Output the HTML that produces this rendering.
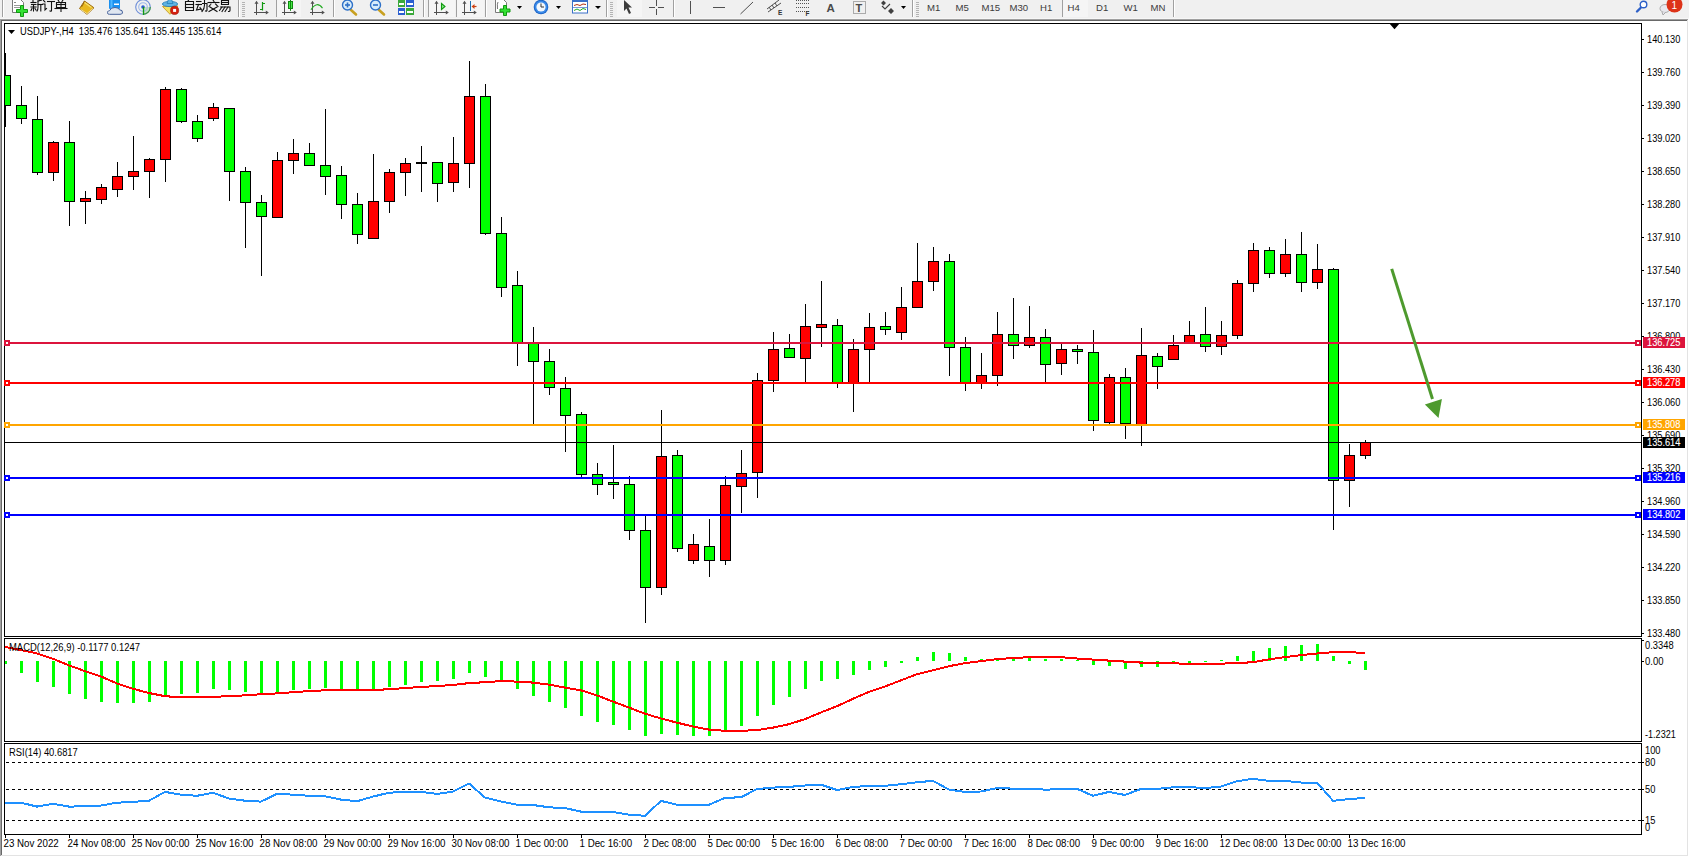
<!DOCTYPE html>
<html><head><meta charset="utf-8"><title>USDJPY H4</title>
<style>
html,body{margin:0;padding:0;background:#fff;}
body{width:1689px;height:857px;overflow:hidden;position:relative;font-family:"Liberation Sans", sans-serif;}
svg{position:absolute;left:0;top:0;display:block;}
text{font-family:"Liberation Sans", sans-serif;}
</style></head><body>
<svg width="1689" height="857" viewBox="0 0 1689 857">
<rect x="0" y="0" width="1689" height="857" fill="#ffffff"/>
<rect x="0" y="0" width="1689" height="19" fill="#f0f0f0"/>
<g shape-rendering="crispEdges">
<rect x="0" y="18" width="1689" height="1" fill="#f7f7f7"/>
<rect x="0" y="19" width="1688" height="1" fill="#a0a0a0"/>
<rect x="1" y="20" width="1687" height="1" fill="#696969"/>
<rect x="0" y="19" width="1" height="837" fill="#a0a0a0"/>
<rect x="1" y="20" width="1" height="835" fill="#696969"/>
<rect x="1687" y="20" width="1" height="836" fill="#e3e3e3"/>
<rect x="1" y="855" width="1687" height="1" fill="#e3e3e3"/>
</g>
<g>
<g shape-rendering="crispEdges">
<rect x="2" y="0" width="1" height="17" fill="#a0a0a0"/>
<rect x="3" y="0" width="1" height="17" fill="#ffffff"/>
<rect x="238" y="0" width="1" height="17" fill="#a0a0a0"/>
<rect x="239" y="0" width="1" height="17" fill="#ffffff"/>
<rect x="242" y="2" width="3" height="1" fill="#b4b4b4"/>
<rect x="242" y="4" width="3" height="1" fill="#b4b4b4"/>
<rect x="242" y="6" width="3" height="1" fill="#b4b4b4"/>
<rect x="242" y="8" width="3" height="1" fill="#b4b4b4"/>
<rect x="242" y="10" width="3" height="1" fill="#b4b4b4"/>
<rect x="242" y="12" width="3" height="1" fill="#b4b4b4"/>
<rect x="242" y="14" width="3" height="1" fill="#b4b4b4"/>
<rect x="242" y="16" width="3" height="1" fill="#b4b4b4"/>
<rect x="276" y="0" width="1" height="17" fill="#a0a0a0"/>
<rect x="277" y="0" width="1" height="17" fill="#ffffff"/>
<rect x="333" y="0" width="1" height="17" fill="#a0a0a0"/>
<rect x="334" y="0" width="1" height="17" fill="#ffffff"/>
<rect x="423" y="0" width="1" height="17" fill="#a0a0a0"/>
<rect x="424" y="0" width="1" height="17" fill="#ffffff"/>
<rect x="428" y="0" width="1" height="17" fill="#a0a0a0"/>
<rect x="429" y="0" width="1" height="17" fill="#ffffff"/>
<rect x="456" y="0" width="1" height="17" fill="#a0a0a0"/>
<rect x="457" y="0" width="1" height="17" fill="#ffffff"/>
<rect x="485" y="0" width="1" height="17" fill="#a0a0a0"/>
<rect x="486" y="0" width="1" height="17" fill="#ffffff"/>
<rect x="606" y="0" width="1" height="17" fill="#a0a0a0"/>
<rect x="607" y="0" width="1" height="17" fill="#ffffff"/>
<rect x="610" y="2" width="3" height="1" fill="#b4b4b4"/>
<rect x="610" y="4" width="3" height="1" fill="#b4b4b4"/>
<rect x="610" y="6" width="3" height="1" fill="#b4b4b4"/>
<rect x="610" y="8" width="3" height="1" fill="#b4b4b4"/>
<rect x="610" y="10" width="3" height="1" fill="#b4b4b4"/>
<rect x="610" y="12" width="3" height="1" fill="#b4b4b4"/>
<rect x="610" y="14" width="3" height="1" fill="#b4b4b4"/>
<rect x="610" y="16" width="3" height="1" fill="#b4b4b4"/>
<rect x="673" y="0" width="1" height="17" fill="#a0a0a0"/>
<rect x="674" y="0" width="1" height="17" fill="#ffffff"/>
<rect x="912" y="0" width="1" height="17" fill="#a0a0a0"/>
<rect x="913" y="0" width="1" height="17" fill="#ffffff"/>
<rect x="916" y="2" width="3" height="1" fill="#b4b4b4"/>
<rect x="916" y="4" width="3" height="1" fill="#b4b4b4"/>
<rect x="916" y="6" width="3" height="1" fill="#b4b4b4"/>
<rect x="916" y="8" width="3" height="1" fill="#b4b4b4"/>
<rect x="916" y="10" width="3" height="1" fill="#b4b4b4"/>
<rect x="916" y="12" width="3" height="1" fill="#b4b4b4"/>
<rect x="916" y="14" width="3" height="1" fill="#b4b4b4"/>
<rect x="916" y="16" width="3" height="1" fill="#b4b4b4"/>
<rect x="1062" y="0" width="1" height="17" fill="#a0a0a0"/>
<rect x="1063" y="0" width="1" height="17" fill="#ffffff"/>
<rect x="1173" y="0" width="1" height="17" fill="#a0a0a0"/>
<rect x="1174" y="0" width="1" height="17" fill="#ffffff"/>
<rect x="277" y="0" width="24" height="17" fill="#f5f5f5"/>
<rect x="429" y="0" width="26" height="17" fill="#f5f5f5"/>
<rect x="457" y="0" width="27" height="17" fill="#f5f5f5"/>
<rect x="617" y="0" width="25" height="17" fill="#f5f5f5"/>
<rect x="1063" y="0" width="25" height="17" fill="#f5f5f5"/>
</g>
<g>
<path d="M12.5 -1 H20 L23.5 2.5 V12.5 H12.5 Z" fill="#ffffff" stroke="#7a7a7a" stroke-width="1"/>
<rect x="14" y="2" width="2" height="1" fill="#888"/><rect x="14" y="5" width="6" height="1" fill="#999"/><rect x="14" y="7" width="6" height="1" fill="#999"/>
<path d="M20.5 5.5 h3 v4 h4 v3 h-4 v4 h-3 v-4 h-4 v-3 h4 z" fill="#33e033" stroke="#119911" stroke-width="1"/>
</g>
<g transform="translate(31,0)" fill="none" stroke="#111" stroke-width="1.1" stroke-linecap="square">
<path d="M2 0.5 V2"/>
<path d="M0 2.5 H5"/>
<path d="M0.5 4.5 H5"/>
<path d="M2.5 4.5 V11"/>
<path d="M0 7 H5"/>
<path d="M1 8.5 L0 10.5"/>
<path d="M4 8.5 L5 10"/>
<path d="M7 1 L10.5 0"/>
<path d="M7 1 V7 Q7 10 6 11"/>
<path d="M7 4.5 H11.5"/>
<path d="M9.8 4.5 V11"/>
</g>
<g transform="translate(43,0)" fill="none" stroke="#111" stroke-width="1.1" stroke-linecap="square">
<path d="M0.5 0.5 L2 2"/>
<path d="M0 4 H2 V10 L3.5 8.5"/>
<path d="M4.5 1.5 H11.5"/>
<path d="M8.5 1.5 V10.5 Q8.5 11.5 7 11"/>
</g>
<g transform="translate(55,0)" fill="none" stroke="#111" stroke-width="1.1" stroke-linecap="square">
<path d="M3 0 L4 1.5"/>
<path d="M8 0 L7 1.5"/>
<path d="M1.5 2.5 H10.5 V7.5 H1.5 Z"/>
<path d="M1.5 4.5 H10.5"/>
<path d="M6 2.5 V11.5"/>
<path d="M0 8.5 H12"/>
</g>
<path d="M84.5 1 L94 7.8 L87 14.3 L79.5 8.6 Z" fill="#e8b820" stroke="#9a6a10" stroke-width="1"/>
<path d="M84.5 1 Q83.5 4 81.5 7" fill="none" stroke="#9a6a10" stroke-width="1"/>
<path d="M80.5 9.3 L87 13.6 L93.3 8.2" fill="none" stroke="#f3df9a" stroke-width="1"/>
<path d="M84.6 2.5 L91.5 7.6" fill="none" stroke="#f7e070" stroke-width="1.2"/>
<rect x="109" y="-2" width="11" height="11" rx="1" fill="#1a90f0"/>
<rect x="110.5" y="-1" width="2" height="9" fill="#50b8ff"/>
<rect x="114" y="3.5" width="5" height="1.5" fill="#ffffff"/>
<path d="M108 14 Q106.5 11 109.5 10.7 Q111 7.2 115 7.5 Q118.5 7.5 119.5 9.8 Q123 9.8 122.5 13 Q122 14.3 120 14.3 L109.5 14.3 Q108.3 14.3 108 14 Z" fill="#dfe6f0" stroke="#45609a" stroke-width="1"/>
<g fill="none">
<path d="M143 7 L143 14.8 A7.8 7.8 0 0 0 150.8 7 Z" fill="#c4e2bc" stroke="none"/>
<circle cx="143" cy="7" r="7.3" stroke="#6f8fd8" stroke-width="1.1"/>
<circle cx="143" cy="7" r="4.3" stroke="#9fb8e8" stroke-width="1.1"/>
<path d="M150.3 7 A7.3 7.3 0 0 1 143 14.3" stroke="#3a9a3a" stroke-width="1.1"/>
<circle cx="143" cy="7" r="1.8" fill="#2a5ad0" stroke="none"/>
<path d="M143.5 7 V15" stroke="#119911" stroke-width="1.3"/>
</g>
<path d="M162.5 6.5 L178 6 L170 14.3 Z" fill="#f4e060" stroke="#c89a20" stroke-width="0.9"/>
<ellipse cx="170" cy="4" rx="7.6" ry="2.6" fill="#60b4e4" stroke="#2a80b8" stroke-width="0.9"/>
<path d="M167 3.5 Q168 -1 170 -2 Q172 -1 173 3.5 Z" fill="#60b4e4" stroke="#2a80b8" stroke-width="0.8"/>
<circle cx="174.6" cy="10.4" r="4.1" fill="#d42010" stroke="#a01008" stroke-width="0.6"/>
<rect x="173.1" y="8.9" width="3" height="3" fill="#ffffff"/>
<g transform="translate(184,0)" fill="none" stroke="#111" stroke-width="1.1" stroke-linecap="square">
<path d="M5 -0.5 L4 1"/>
<path d="M1.5 1.5 H9.5 V10.5 H1.5 Z"/>
<path d="M1.5 4.5 H9.5"/>
<path d="M1.5 7.5 H9.5"/>
</g>
<g transform="translate(196,0)" fill="none" stroke="#111" stroke-width="1.1" stroke-linecap="square">
<path d="M0.5 1.5 H5"/>
<path d="M0 4.5 H5.5"/>
<path d="M2.5 4.5 L0.5 10 L5 9"/>
<path d="M4 7.5 L5.5 10"/>
<path d="M6.5 3.5 H11 V10 Q11 11.5 9.5 11"/>
<path d="M8.5 0 V5 Q8.5 9 6 11.5"/>
</g>
<g transform="translate(207.5,0)" fill="none" stroke="#111" stroke-width="1.1" stroke-linecap="square">
<path d="M5.5 0 L6.5 1.5"/>
<path d="M0.5 2.5 H11.5"/>
<path d="M3.5 4 L1.5 6.5"/>
<path d="M8 4 L10.5 6.5"/>
<path d="M2.5 7 L9.5 11.5"/>
<path d="M9.5 7 L1.5 11.5"/>
</g>
<g transform="translate(219,0)" fill="none" stroke="#111" stroke-width="1.1" stroke-linecap="square">
<path d="M2.5 0.5 H9.5 V4.5 H2.5 Z"/>
<path d="M2.5 2.5 H9.5"/>
<path d="M1.5 7 H11 V10.5 Q11 11.5 9.5 11.5"/>
<path d="M3 7 L0.5 10.5"/>
<path d="M6 7 L3 11.5"/>
<path d="M9 7 L6 11.5"/>
</g>
<rect x="256" y="2" width="1" height="13" fill="#505050"/>
<rect x="254" y="12" width="13" height="1" fill="#505050"/>
<path d="M256.5 0.8 L254.5 3.8 L258.5 3.8 Z" fill="#505050"/>
<path d="M268.8 12.5 L265.8 10.5 L265.8 14.5 Z" fill="#505050"/>
<path d="M262.5 2 V10.5 M260 9.5 H262.5 M262.5 3.5 H265" fill="none" stroke="#119911" stroke-width="1.2"/>
<rect x="284" y="2" width="1" height="13" fill="#505050"/>
<rect x="282" y="12" width="13" height="1" fill="#505050"/>
<path d="M284.5 0.8 L282.5 3.8 L286.5 3.8 Z" fill="#505050"/>
<path d="M296.8 12.5 L293.8 10.5 L293.8 14.5 Z" fill="#505050"/>
<rect x="288.5" y="1.5" width="4" height="7" fill="#44ee44" stroke="#118811" stroke-width="1"/><path d="M290.5 0 V10.8" stroke="#118811" stroke-width="1"/>
<rect x="312" y="2" width="1" height="13" fill="#505050"/>
<rect x="310" y="12" width="13" height="1" fill="#505050"/>
<path d="M312.5 0.8 L310.5 3.8 L314.5 3.8 Z" fill="#505050"/>
<path d="M324.8 12.5 L321.8 10.5 L321.8 14.5 Z" fill="#505050"/>
<path d="M311 9.7 Q317 0.5 322.5 8.1" fill="none" stroke="#22aa22" stroke-width="1.1"/>
<path d="M351 10 L356 14.5" stroke="#c8a020" stroke-width="2.6" stroke-linecap="round"/>
<circle cx="347.5" cy="5" r="5" fill="#d8ecfa" stroke="#2d70c8" stroke-width="1.4"/>
<path d="M345 5 H350" stroke="#2d70c8" stroke-width="1.6"/>
<path d="M347.5 2.5 V7.5" stroke="#2d70c8" stroke-width="1.6"/>
<path d="M379 10 L384 14.5" stroke="#c8a020" stroke-width="2.6" stroke-linecap="round"/>
<circle cx="375.5" cy="5" r="5" fill="#d8ecfa" stroke="#2d70c8" stroke-width="1.4"/>
<path d="M373 5 H378" stroke="#2d70c8" stroke-width="1.6"/>
<g shape-rendering="crispEdges">
<rect x="398" y="0" width="7" height="7" fill="#3aa83a"/><rect x="406" y="0" width="8" height="7" fill="#2b5fd0"/>
<rect x="398" y="8" width="7" height="7" fill="#2b5fd0"/><rect x="406" y="8" width="8" height="7" fill="#3aa83a"/>
<rect x="399" y="3" width="5" height="2" fill="#ffffff"/><rect x="407" y="3" width="6" height="2" fill="#ffffff"/>
<rect x="399" y="11" width="5" height="2" fill="#ffffff"/><rect x="407" y="11" width="6" height="2" fill="#ffffff"/>
</g>
<rect x="436" y="2" width="1" height="13" fill="#505050"/>
<rect x="434" y="12" width="13" height="1" fill="#505050"/>
<path d="M436.5 0.8 L434.5 3.8 L438.5 3.8 Z" fill="#505050"/>
<path d="M448.8 12.5 L445.8 10.5 L445.8 14.5 Z" fill="#505050"/>
<path d="M441.5 3.5 L445 6.5 L441.5 9.5 Z" fill="#88ee88" stroke="#119911" stroke-width="1.1"/>
<rect x="464" y="2" width="1" height="13" fill="#505050"/>
<rect x="462" y="12" width="13" height="1" fill="#505050"/>
<path d="M464.5 0.8 L462.5 3.8 L466.5 3.8 Z" fill="#505050"/>
<path d="M476.8 12.5 L473.8 10.5 L473.8 14.5 Z" fill="#505050"/>
<rect x="470" y="1" width="1" height="10" fill="#1f6fb0"/><path d="M476.5 6.5 L473 6.5" stroke="#c04010" stroke-width="1.2"/><path d="M471.5 6.5 L474.5 4 L474.5 9 Z" fill="#d04010"/>
<path d="M495.5 -1 H503 L506.5 2.5 V12.5 H495.5 Z" fill="#ffffff" stroke="#7a7a7a" stroke-width="1"/>
<path d="M498 2 Q497 3 497.5 9" fill="none" stroke="#555" stroke-width="0.8"/>
<path d="M503.5 5.5 h3 v3.5 h3.5 v3 h-3.5 v3.5 h-3 v-3.5 h-3.5 v-3 h3.5 z" fill="#33e033" stroke="#119911" stroke-width="1"/>
<path d="M517 6 H522 L519.5 9 Z" fill="#000"/>
<circle cx="541" cy="7" r="7.3" fill="#1f66c8"/><circle cx="541" cy="7" r="6.3" fill="#3a8ae8"/><circle cx="541" cy="7" r="4.6" fill="#f4f8fc"/>
<path d="M541 3.5 V7 H544" fill="none" stroke="#333" stroke-width="1"/>
<path d="M556 6 H561 L558.5 9 Z" fill="#000"/>
<rect x="572.5" y="0" width="15" height="13" fill="#ffffff" stroke="#3a70c8" stroke-width="1"/>
<rect x="573" y="0" width="14" height="2" fill="#3a70c8"/><rect x="573" y="7" width="14" height="1" fill="#7a9ad8"/>
<path d="M574 5.5 L577 4.5 L580 5.5 L583 4 L586 4.5" fill="none" stroke="#b03010" stroke-width="1"/>
<path d="M574 10.5 L577 9 L580 10.5 L583 8.5 L586 9.5" fill="none" stroke="#22aa22" stroke-width="1"/>
<path d="M595 6 H601 L598 9 Z" fill="#000"/>
<path d="M624 0 L624 11 L626.5 8.5 L629 14 L631 13 L628.5 7.5 L632 7.5 Z" fill="#3c3c3c"/>
<path d="M649 7.5 H655 M658 7.5 H664 M656.5 0 V6 M656.5 9 V15" stroke="#505050" stroke-width="1" shape-rendering="crispEdges"/>
<rect x="690" y="1" width="1" height="13" fill="#505050"/>
<rect x="713" y="7" width="12" height="1" fill="#505050"/>
<path d="M740.5 14 L753 2" stroke="#505050" stroke-width="1"/>
<path d="M767 9 L779 0 M768 12 L781 3 M769 7 L771 10 M772 5 L774 8 M775 3 L777 6" stroke="#505050" stroke-width="1" fill="none"/>
<text x="778" y="15" font-size="6.5" font-weight="bold" fill="#333">E</text>
<g shape-rendering="crispEdges">
<rect x="796" y="0" width="1" height="1" fill="#555"/>
<rect x="798" y="0" width="1" height="1" fill="#555"/>
<rect x="800" y="0" width="1" height="1" fill="#555"/>
<rect x="802" y="0" width="1" height="1" fill="#555"/>
<rect x="804" y="0" width="1" height="1" fill="#555"/>
<rect x="806" y="0" width="1" height="1" fill="#555"/>
<rect x="808" y="0" width="1" height="1" fill="#555"/>
<rect x="796" y="3" width="1" height="1" fill="#555"/>
<rect x="798" y="3" width="1" height="1" fill="#555"/>
<rect x="800" y="3" width="1" height="1" fill="#555"/>
<rect x="802" y="3" width="1" height="1" fill="#555"/>
<rect x="804" y="3" width="1" height="1" fill="#555"/>
<rect x="806" y="3" width="1" height="1" fill="#555"/>
<rect x="808" y="3" width="1" height="1" fill="#555"/>
<rect x="796" y="7" width="1" height="1" fill="#555"/>
<rect x="798" y="7" width="1" height="1" fill="#555"/>
<rect x="800" y="7" width="1" height="1" fill="#555"/>
<rect x="802" y="7" width="1" height="1" fill="#555"/>
<rect x="804" y="7" width="1" height="1" fill="#555"/>
<rect x="806" y="7" width="1" height="1" fill="#555"/>
<rect x="808" y="7" width="1" height="1" fill="#555"/>
<rect x="796" y="11" width="1" height="1" fill="#555"/>
<rect x="798" y="11" width="1" height="1" fill="#555"/>
<rect x="800" y="11" width="1" height="1" fill="#555"/>
<rect x="802" y="11" width="1" height="1" fill="#555"/>
<rect x="804" y="11" width="1" height="1" fill="#555"/>
<rect x="806" y="11" width="1" height="1" fill="#555"/>
<rect x="808" y="11" width="1" height="1" fill="#555"/>
</g>
<text x="805.5" y="15.5" font-size="6.5" font-weight="bold" fill="#333">F</text>
<text x="826.5" y="12" font-size="11.5" font-weight="bold" fill="#4a4a4a">A</text>
<rect x="853.5" y="1.5" width="12" height="12" fill="none" stroke="#666" stroke-width="1" stroke-dasharray="1 1"/>
<text x="855.5" y="12" font-size="11" font-weight="bold" fill="#4a4a4a">T</text>
<path d="M881 3 L883.5 0.5 L886 3 L883.5 5.5 Z M888 11 L891 8 L894 11 L891 14 Z" fill="#404040"/>
<path d="M882 6 L885 9 L890 4" fill="none" stroke="#404040" stroke-width="1.1"/>
<path d="M901 6 H906 L903.5 9 Z" fill="#000"/>
<text x="927" y="11" font-size="9.6" fill="#3c3c3c">M1</text>
<text x="955.5" y="11" font-size="9.6" fill="#3c3c3c">M5</text>
<text x="981.5" y="11" font-size="9.6" fill="#3c3c3c">M15</text>
<text x="1009.5" y="11" font-size="9.6" fill="#3c3c3c">M30</text>
<text x="1040" y="11" font-size="9.6" fill="#3c3c3c">H1</text>
<text x="1067.5" y="11" font-size="9.6" fill="#3c3c3c">H4</text>
<text x="1096" y="11" font-size="9.6" fill="#3c3c3c">D1</text>
<text x="1123.5" y="11" font-size="9.6" fill="#3c3c3c">W1</text>
<text x="1150.5" y="11" font-size="9.6" fill="#3c3c3c">MN</text>
<path d="M1637 11.5 L1640.5 8" stroke="#2d60c8" stroke-width="2.4" stroke-linecap="round"/>
<circle cx="1643.5" cy="4.5" r="3.3" fill="#ffffff" stroke="#2d60c8" stroke-width="1.4"/>
<ellipse cx="1665" cy="8.5" rx="5" ry="4" fill="#e8e8ee" stroke="#aaaaaa" stroke-width="1"/>
<path d="M1662 12 L1663 15 L1665.5 12.5" fill="#e8e8ee" stroke="#999" stroke-width="0.8"/>
<circle cx="1674.5" cy="4.5" r="8" fill="#dd3318"/>
<text x="1671.5" y="9" font-size="10" font-family="Liberation Serif, serif" fill="#ffffff">1</text>
</g>
<defs>
<clipPath id="cmain"><rect x="5" y="24" width="1636" height="612"/></clipPath>
<clipPath id="cmacd"><rect x="5" y="639" width="1636" height="102"/></clipPath>
<clipPath id="crsi"><rect x="5" y="744" width="1636" height="90"/></clipPath>
</defs>
<g shape-rendering="crispEdges" fill="#000">
<rect x="4" y="23" width="1638" height="1" />
<rect x="4" y="636" width="1638" height="1" />
<rect x="4" y="23" width="1" height="614" />
<rect x="1641" y="23" width="1" height="614" />
<rect x="4" y="638" width="1638" height="1" />
<rect x="4" y="741" width="1638" height="1" />
<rect x="4" y="638" width="1" height="104" />
<rect x="1641" y="638" width="1" height="104" />
<rect x="4" y="743" width="1638" height="1" />
<rect x="4" y="834" width="1638" height="1" />
<rect x="4" y="743" width="1" height="92" />
<rect x="1641" y="743" width="1" height="92" />
</g>
<g clip-path="url(#cmain)" shape-rendering="crispEdges">
<rect x="5" y="53" width="1" height="74" fill="#000"/>
<rect x="0" y="75" width="11" height="31" fill="#000"/>
<rect x="1" y="76" width="9" height="29" fill="#00ff00"/>
<rect x="21" y="86" width="1" height="38" fill="#000"/>
<rect x="16" y="105" width="11" height="14" fill="#000"/>
<rect x="17" y="106" width="9" height="12" fill="#00ff00"/>
<rect x="37" y="96" width="1" height="79" fill="#000"/>
<rect x="32" y="119" width="11" height="54" fill="#000"/>
<rect x="33" y="120" width="9" height="52" fill="#00ff00"/>
<rect x="53" y="141" width="1" height="40" fill="#000"/>
<rect x="48" y="142" width="11" height="31" fill="#000"/>
<rect x="49" y="143" width="9" height="29" fill="#ff0000"/>
<rect x="69" y="121" width="1" height="105" fill="#000"/>
<rect x="64" y="142" width="11" height="60" fill="#000"/>
<rect x="65" y="143" width="9" height="58" fill="#00ff00"/>
<rect x="85" y="191" width="1" height="33" fill="#000"/>
<rect x="80" y="198" width="11" height="4" fill="#000"/>
<rect x="81" y="199" width="9" height="2" fill="#ff0000"/>
<rect x="101" y="184" width="1" height="20" fill="#000"/>
<rect x="96" y="187" width="11" height="13" fill="#000"/>
<rect x="97" y="188" width="9" height="11" fill="#ff0000"/>
<rect x="117" y="162" width="1" height="35" fill="#000"/>
<rect x="112" y="176" width="11" height="14" fill="#000"/>
<rect x="113" y="177" width="9" height="12" fill="#ff0000"/>
<rect x="133" y="136" width="1" height="54" fill="#000"/>
<rect x="128" y="171" width="11" height="6" fill="#000"/>
<rect x="129" y="172" width="9" height="4" fill="#ff0000"/>
<rect x="149" y="158" width="1" height="40" fill="#000"/>
<rect x="144" y="159" width="11" height="13" fill="#000"/>
<rect x="145" y="160" width="9" height="11" fill="#ff0000"/>
<rect x="165" y="87" width="1" height="95" fill="#000"/>
<rect x="160" y="89" width="11" height="71" fill="#000"/>
<rect x="161" y="90" width="9" height="69" fill="#ff0000"/>
<rect x="181" y="88" width="1" height="35" fill="#000"/>
<rect x="176" y="89" width="11" height="33" fill="#000"/>
<rect x="177" y="90" width="9" height="31" fill="#00ff00"/>
<rect x="197" y="115" width="1" height="27" fill="#000"/>
<rect x="192" y="121" width="11" height="18" fill="#000"/>
<rect x="193" y="122" width="9" height="16" fill="#00ff00"/>
<rect x="213" y="103" width="1" height="18" fill="#000"/>
<rect x="208" y="107" width="11" height="12" fill="#000"/>
<rect x="209" y="108" width="9" height="10" fill="#ff0000"/>
<rect x="229" y="108" width="1" height="93" fill="#000"/>
<rect x="224" y="108" width="11" height="64" fill="#000"/>
<rect x="225" y="109" width="9" height="62" fill="#00ff00"/>
<rect x="245" y="167" width="1" height="81" fill="#000"/>
<rect x="240" y="171" width="11" height="32" fill="#000"/>
<rect x="241" y="172" width="9" height="30" fill="#00ff00"/>
<rect x="261" y="195" width="1" height="81" fill="#000"/>
<rect x="256" y="202" width="11" height="15" fill="#000"/>
<rect x="257" y="203" width="9" height="13" fill="#00ff00"/>
<rect x="277" y="152" width="1" height="66" fill="#000"/>
<rect x="272" y="160" width="11" height="58" fill="#000"/>
<rect x="273" y="161" width="9" height="56" fill="#ff0000"/>
<rect x="293" y="139" width="1" height="35" fill="#000"/>
<rect x="288" y="153" width="11" height="8" fill="#000"/>
<rect x="289" y="154" width="9" height="6" fill="#ff0000"/>
<rect x="309" y="143" width="1" height="23" fill="#000"/>
<rect x="304" y="153" width="11" height="13" fill="#000"/>
<rect x="305" y="154" width="9" height="11" fill="#00ff00"/>
<rect x="325" y="109" width="1" height="86" fill="#000"/>
<rect x="320" y="165" width="11" height="12" fill="#000"/>
<rect x="321" y="166" width="9" height="10" fill="#00ff00"/>
<rect x="341" y="166" width="1" height="53" fill="#000"/>
<rect x="336" y="175" width="11" height="30" fill="#000"/>
<rect x="337" y="176" width="9" height="28" fill="#00ff00"/>
<rect x="357" y="193" width="1" height="51" fill="#000"/>
<rect x="352" y="204" width="11" height="31" fill="#000"/>
<rect x="353" y="205" width="9" height="29" fill="#00ff00"/>
<rect x="373" y="154" width="1" height="85" fill="#000"/>
<rect x="368" y="201" width="11" height="38" fill="#000"/>
<rect x="369" y="202" width="9" height="36" fill="#ff0000"/>
<rect x="389" y="169" width="1" height="44" fill="#000"/>
<rect x="384" y="172" width="11" height="30" fill="#000"/>
<rect x="385" y="173" width="9" height="28" fill="#ff0000"/>
<rect x="405" y="158" width="1" height="38" fill="#000"/>
<rect x="400" y="163" width="11" height="10" fill="#000"/>
<rect x="401" y="164" width="9" height="8" fill="#ff0000"/>
<rect x="421" y="146" width="1" height="46" fill="#000"/>
<rect x="416" y="162" width="11" height="2" fill="#000"/>
<rect x="437" y="162" width="1" height="40" fill="#000"/>
<rect x="432" y="162" width="11" height="22" fill="#000"/>
<rect x="433" y="163" width="9" height="20" fill="#00ff00"/>
<rect x="453" y="137" width="1" height="55" fill="#000"/>
<rect x="448" y="163" width="11" height="20" fill="#000"/>
<rect x="449" y="164" width="9" height="18" fill="#ff0000"/>
<rect x="469" y="61" width="1" height="127" fill="#000"/>
<rect x="464" y="96" width="11" height="68" fill="#000"/>
<rect x="465" y="97" width="9" height="66" fill="#ff0000"/>
<rect x="485" y="84" width="1" height="151" fill="#000"/>
<rect x="480" y="96" width="11" height="138" fill="#000"/>
<rect x="481" y="97" width="9" height="136" fill="#00ff00"/>
<rect x="501" y="217" width="1" height="80" fill="#000"/>
<rect x="496" y="233" width="11" height="55" fill="#000"/>
<rect x="497" y="234" width="9" height="53" fill="#00ff00"/>
<rect x="517" y="271" width="1" height="95" fill="#000"/>
<rect x="512" y="285" width="11" height="58" fill="#000"/>
<rect x="513" y="286" width="9" height="56" fill="#00ff00"/>
<rect x="533" y="327" width="1" height="98" fill="#000"/>
<rect x="528" y="343" width="11" height="19" fill="#000"/>
<rect x="529" y="344" width="9" height="17" fill="#00ff00"/>
<rect x="549" y="349" width="1" height="46" fill="#000"/>
<rect x="544" y="361" width="11" height="27" fill="#000"/>
<rect x="545" y="362" width="9" height="25" fill="#00ff00"/>
<rect x="565" y="377" width="1" height="75" fill="#000"/>
<rect x="560" y="388" width="11" height="28" fill="#000"/>
<rect x="561" y="389" width="9" height="26" fill="#00ff00"/>
<rect x="581" y="412" width="1" height="65" fill="#000"/>
<rect x="576" y="414" width="11" height="61" fill="#000"/>
<rect x="577" y="415" width="9" height="59" fill="#00ff00"/>
<rect x="597" y="463" width="1" height="32" fill="#000"/>
<rect x="592" y="474" width="11" height="11" fill="#000"/>
<rect x="593" y="475" width="9" height="9" fill="#00ff00"/>
<rect x="613" y="445" width="1" height="54" fill="#000"/>
<rect x="608" y="482" width="11" height="3" fill="#000"/>
<rect x="609" y="483" width="9" height="1" fill="#00ff00"/>
<rect x="629" y="476" width="1" height="64" fill="#000"/>
<rect x="624" y="484" width="11" height="47" fill="#000"/>
<rect x="625" y="485" width="9" height="45" fill="#00ff00"/>
<rect x="645" y="515" width="1" height="108" fill="#000"/>
<rect x="640" y="530" width="11" height="58" fill="#000"/>
<rect x="641" y="531" width="9" height="56" fill="#00ff00"/>
<rect x="661" y="410" width="1" height="185" fill="#000"/>
<rect x="656" y="456" width="11" height="132" fill="#000"/>
<rect x="657" y="457" width="9" height="130" fill="#ff0000"/>
<rect x="677" y="450" width="1" height="102" fill="#000"/>
<rect x="672" y="455" width="11" height="94" fill="#000"/>
<rect x="673" y="456" width="9" height="92" fill="#00ff00"/>
<rect x="693" y="534" width="1" height="30" fill="#000"/>
<rect x="688" y="544" width="11" height="17" fill="#000"/>
<rect x="689" y="545" width="9" height="15" fill="#ff0000"/>
<rect x="709" y="519" width="1" height="58" fill="#000"/>
<rect x="704" y="546" width="11" height="15" fill="#000"/>
<rect x="705" y="547" width="9" height="13" fill="#00ff00"/>
<rect x="725" y="476" width="1" height="89" fill="#000"/>
<rect x="720" y="485" width="11" height="76" fill="#000"/>
<rect x="721" y="486" width="9" height="74" fill="#ff0000"/>
<rect x="741" y="450" width="1" height="63" fill="#000"/>
<rect x="736" y="473" width="11" height="14" fill="#000"/>
<rect x="737" y="474" width="9" height="12" fill="#ff0000"/>
<rect x="757" y="373" width="1" height="125" fill="#000"/>
<rect x="752" y="380" width="11" height="93" fill="#000"/>
<rect x="753" y="381" width="9" height="91" fill="#ff0000"/>
<rect x="773" y="332" width="1" height="60" fill="#000"/>
<rect x="768" y="349" width="11" height="32" fill="#000"/>
<rect x="769" y="350" width="9" height="30" fill="#ff0000"/>
<rect x="789" y="334" width="1" height="24" fill="#000"/>
<rect x="784" y="348" width="11" height="10" fill="#000"/>
<rect x="785" y="349" width="9" height="8" fill="#00ff00"/>
<rect x="805" y="304" width="1" height="78" fill="#000"/>
<rect x="800" y="326" width="11" height="33" fill="#000"/>
<rect x="801" y="327" width="9" height="31" fill="#ff0000"/>
<rect x="821" y="281" width="1" height="66" fill="#000"/>
<rect x="816" y="324" width="11" height="4" fill="#000"/>
<rect x="817" y="325" width="9" height="2" fill="#ff0000"/>
<rect x="837" y="319" width="1" height="69" fill="#000"/>
<rect x="832" y="325" width="11" height="58" fill="#000"/>
<rect x="833" y="326" width="9" height="56" fill="#00ff00"/>
<rect x="853" y="339" width="1" height="73" fill="#000"/>
<rect x="848" y="349" width="11" height="34" fill="#000"/>
<rect x="849" y="350" width="9" height="32" fill="#ff0000"/>
<rect x="869" y="313" width="1" height="69" fill="#000"/>
<rect x="864" y="327" width="11" height="23" fill="#000"/>
<rect x="865" y="328" width="9" height="21" fill="#ff0000"/>
<rect x="885" y="312" width="1" height="23" fill="#000"/>
<rect x="880" y="326" width="11" height="4" fill="#000"/>
<rect x="881" y="327" width="9" height="2" fill="#00ff00"/>
<rect x="901" y="287" width="1" height="53" fill="#000"/>
<rect x="896" y="307" width="11" height="26" fill="#000"/>
<rect x="897" y="308" width="9" height="24" fill="#ff0000"/>
<rect x="917" y="243" width="1" height="65" fill="#000"/>
<rect x="912" y="281" width="11" height="27" fill="#000"/>
<rect x="913" y="282" width="9" height="25" fill="#ff0000"/>
<rect x="933" y="247" width="1" height="44" fill="#000"/>
<rect x="928" y="261" width="11" height="21" fill="#000"/>
<rect x="929" y="262" width="9" height="19" fill="#ff0000"/>
<rect x="949" y="254" width="1" height="122" fill="#000"/>
<rect x="944" y="261" width="11" height="87" fill="#000"/>
<rect x="945" y="262" width="9" height="85" fill="#00ff00"/>
<rect x="965" y="337" width="1" height="54" fill="#000"/>
<rect x="960" y="347" width="11" height="36" fill="#000"/>
<rect x="961" y="348" width="9" height="34" fill="#00ff00"/>
<rect x="981" y="353" width="1" height="36" fill="#000"/>
<rect x="976" y="375" width="11" height="8" fill="#000"/>
<rect x="977" y="376" width="9" height="6" fill="#ff0000"/>
<rect x="997" y="312" width="1" height="74" fill="#000"/>
<rect x="992" y="334" width="11" height="42" fill="#000"/>
<rect x="993" y="335" width="9" height="40" fill="#ff0000"/>
<rect x="1013" y="298" width="1" height="61" fill="#000"/>
<rect x="1008" y="334" width="11" height="12" fill="#000"/>
<rect x="1009" y="335" width="9" height="10" fill="#00ff00"/>
<rect x="1029" y="306" width="1" height="42" fill="#000"/>
<rect x="1024" y="337" width="11" height="9" fill="#000"/>
<rect x="1025" y="338" width="9" height="7" fill="#ff0000"/>
<rect x="1045" y="329" width="1" height="54" fill="#000"/>
<rect x="1040" y="337" width="11" height="28" fill="#000"/>
<rect x="1041" y="338" width="9" height="26" fill="#00ff00"/>
<rect x="1061" y="344" width="1" height="31" fill="#000"/>
<rect x="1056" y="349" width="11" height="15" fill="#000"/>
<rect x="1057" y="350" width="9" height="13" fill="#ff0000"/>
<rect x="1077" y="345" width="1" height="19" fill="#000"/>
<rect x="1072" y="349" width="11" height="3" fill="#000"/>
<rect x="1073" y="350" width="9" height="1" fill="#00ff00"/>
<rect x="1093" y="330" width="1" height="101" fill="#000"/>
<rect x="1088" y="352" width="11" height="69" fill="#000"/>
<rect x="1089" y="353" width="9" height="67" fill="#00ff00"/>
<rect x="1109" y="374" width="1" height="51" fill="#000"/>
<rect x="1104" y="377" width="11" height="46" fill="#000"/>
<rect x="1105" y="378" width="9" height="44" fill="#ff0000"/>
<rect x="1125" y="368" width="1" height="71" fill="#000"/>
<rect x="1120" y="377" width="11" height="47" fill="#000"/>
<rect x="1121" y="378" width="9" height="45" fill="#00ff00"/>
<rect x="1141" y="328" width="1" height="118" fill="#000"/>
<rect x="1136" y="355" width="11" height="70" fill="#000"/>
<rect x="1137" y="356" width="9" height="68" fill="#ff0000"/>
<rect x="1157" y="353" width="1" height="36" fill="#000"/>
<rect x="1152" y="356" width="11" height="11" fill="#000"/>
<rect x="1153" y="357" width="9" height="9" fill="#00ff00"/>
<rect x="1173" y="335" width="1" height="25" fill="#000"/>
<rect x="1168" y="345" width="11" height="15" fill="#000"/>
<rect x="1169" y="346" width="9" height="13" fill="#ff0000"/>
<rect x="1189" y="321" width="1" height="23" fill="#000"/>
<rect x="1184" y="335" width="11" height="9" fill="#000"/>
<rect x="1185" y="336" width="9" height="7" fill="#ff0000"/>
<rect x="1205" y="307" width="1" height="45" fill="#000"/>
<rect x="1200" y="334" width="11" height="13" fill="#000"/>
<rect x="1201" y="335" width="9" height="11" fill="#00ff00"/>
<rect x="1221" y="321" width="1" height="34" fill="#000"/>
<rect x="1216" y="335" width="11" height="12" fill="#000"/>
<rect x="1217" y="336" width="9" height="10" fill="#ff0000"/>
<rect x="1237" y="280" width="1" height="59" fill="#000"/>
<rect x="1232" y="283" width="11" height="53" fill="#000"/>
<rect x="1233" y="284" width="9" height="51" fill="#ff0000"/>
<rect x="1253" y="243" width="1" height="49" fill="#000"/>
<rect x="1248" y="250" width="11" height="34" fill="#000"/>
<rect x="1249" y="251" width="9" height="32" fill="#ff0000"/>
<rect x="1269" y="247" width="1" height="31" fill="#000"/>
<rect x="1264" y="250" width="11" height="24" fill="#000"/>
<rect x="1265" y="251" width="9" height="22" fill="#00ff00"/>
<rect x="1285" y="239" width="1" height="38" fill="#000"/>
<rect x="1280" y="254" width="11" height="20" fill="#000"/>
<rect x="1281" y="255" width="9" height="18" fill="#ff0000"/>
<rect x="1301" y="232" width="1" height="60" fill="#000"/>
<rect x="1296" y="254" width="11" height="29" fill="#000"/>
<rect x="1297" y="255" width="9" height="27" fill="#00ff00"/>
<rect x="1317" y="244" width="1" height="45" fill="#000"/>
<rect x="1312" y="269" width="11" height="14" fill="#000"/>
<rect x="1313" y="270" width="9" height="12" fill="#ff0000"/>
<rect x="1333" y="268" width="1" height="262" fill="#000"/>
<rect x="1328" y="269" width="11" height="212" fill="#000"/>
<rect x="1329" y="270" width="9" height="210" fill="#00ff00"/>
<rect x="1349" y="444" width="1" height="63" fill="#000"/>
<rect x="1344" y="455" width="11" height="26" fill="#000"/>
<rect x="1345" y="456" width="9" height="24" fill="#ff0000"/>
<rect x="1365" y="440" width="1" height="19" fill="#000"/>
<rect x="1360" y="442" width="11" height="14" fill="#000"/>
<rect x="1361" y="443" width="9" height="12" fill="#ff0000"/>
</g>
<g shape-rendering="crispEdges">
<rect x="5" y="442" width="1636" height="1" fill="#000"/>
<rect x="5" y="342" width="1636" height="2" fill="#dc143c"/>
<rect x="4" y="340" width="6" height="6" fill="#dc143c"/>
<rect x="6" y="342" width="2" height="2" fill="#fff"/>
<rect x="1635" y="340" width="6" height="6" fill="#dc143c"/>
<rect x="1637" y="342" width="2" height="2" fill="#fff"/>
<rect x="5" y="382" width="1636" height="2" fill="#ff0000"/>
<rect x="4" y="380" width="6" height="6" fill="#ff0000"/>
<rect x="6" y="382" width="2" height="2" fill="#fff"/>
<rect x="1635" y="380" width="6" height="6" fill="#ff0000"/>
<rect x="1637" y="382" width="2" height="2" fill="#fff"/>
<rect x="5" y="424" width="1636" height="2" fill="#ffa500"/>
<rect x="4" y="422" width="6" height="6" fill="#ffa500"/>
<rect x="6" y="424" width="2" height="2" fill="#fff"/>
<rect x="1635" y="422" width="6" height="6" fill="#ffa500"/>
<rect x="1637" y="424" width="2" height="2" fill="#fff"/>
<rect x="5" y="477" width="1636" height="2" fill="#0000ff"/>
<rect x="4" y="475" width="6" height="6" fill="#0000ff"/>
<rect x="6" y="477" width="2" height="2" fill="#fff"/>
<rect x="1635" y="475" width="6" height="6" fill="#0000ff"/>
<rect x="1637" y="477" width="2" height="2" fill="#fff"/>
<rect x="5" y="514" width="1636" height="2" fill="#0000ff"/>
<rect x="4" y="512" width="6" height="6" fill="#0000ff"/>
<rect x="6" y="514" width="2" height="2" fill="#fff"/>
<rect x="1635" y="512" width="6" height="6" fill="#0000ff"/>
<rect x="1637" y="514" width="2" height="2" fill="#fff"/>
</g>
<path d="M1391.7 268.9 L1432.5 399" stroke="#4e9a2e" stroke-width="3" fill="none"/>
<path d="M1438.5 418 L1424.9 404.4 L1441.9 399.1 Z" fill="#4e9a2e"/>
<path d="M1389 23 L1400 23 L1394.5 29.3 Z" fill="#000"/>
<path d="M8 30 L15 30 L11.5 34 Z" fill="#000"/>
<text x="20" y="35" font-size="10" fill="#000" textLength="201.50" lengthAdjust="spacingAndGlyphs">USDJPY-,H4&#160;&#160;135.476 135.641 135.445 135.614</text>
<g shape-rendering="crispEdges">
<rect x="1642" y="39" width="2" height="1" fill="#000"/>
<rect x="1642" y="72" width="2" height="1" fill="#000"/>
<rect x="1642" y="105" width="2" height="1" fill="#000"/>
<rect x="1642" y="138" width="2" height="1" fill="#000"/>
<rect x="1642" y="171" width="2" height="1" fill="#000"/>
<rect x="1642" y="204" width="2" height="1" fill="#000"/>
<rect x="1642" y="237" width="2" height="1" fill="#000"/>
<rect x="1642" y="270" width="2" height="1" fill="#000"/>
<rect x="1642" y="303" width="2" height="1" fill="#000"/>
<rect x="1642" y="336" width="2" height="1" fill="#000"/>
<rect x="1642" y="369" width="2" height="1" fill="#000"/>
<rect x="1642" y="402" width="2" height="1" fill="#000"/>
<rect x="1642" y="435" width="2" height="1" fill="#000"/>
<rect x="1642" y="468" width="2" height="1" fill="#000"/>
<rect x="1642" y="501" width="2" height="1" fill="#000"/>
<rect x="1642" y="534" width="2" height="1" fill="#000"/>
<rect x="1642" y="567" width="2" height="1" fill="#000"/>
<rect x="1642" y="600" width="2" height="1" fill="#000"/>
<rect x="1642" y="633" width="2" height="1" fill="#000"/>
</g>
<text x="1647" y="43" font-size="10" fill="#000" textLength="33.40" lengthAdjust="spacingAndGlyphs">140.130</text>
<text x="1647" y="76" font-size="10" fill="#000" textLength="33.40" lengthAdjust="spacingAndGlyphs">139.760</text>
<text x="1647" y="109" font-size="10" fill="#000" textLength="33.40" lengthAdjust="spacingAndGlyphs">139.390</text>
<text x="1647" y="142" font-size="10" fill="#000" textLength="33.40" lengthAdjust="spacingAndGlyphs">139.020</text>
<text x="1647" y="175" font-size="10" fill="#000" textLength="33.40" lengthAdjust="spacingAndGlyphs">138.650</text>
<text x="1647" y="208" font-size="10" fill="#000" textLength="33.40" lengthAdjust="spacingAndGlyphs">138.280</text>
<text x="1647" y="241" font-size="10" fill="#000" textLength="33.40" lengthAdjust="spacingAndGlyphs">137.910</text>
<text x="1647" y="274" font-size="10" fill="#000" textLength="33.40" lengthAdjust="spacingAndGlyphs">137.540</text>
<text x="1647" y="307" font-size="10" fill="#000" textLength="33.40" lengthAdjust="spacingAndGlyphs">137.170</text>
<text x="1647" y="340" font-size="10" fill="#000" textLength="33.40" lengthAdjust="spacingAndGlyphs">136.800</text>
<text x="1647" y="373" font-size="10" fill="#000" textLength="33.40" lengthAdjust="spacingAndGlyphs">136.430</text>
<text x="1647" y="406" font-size="10" fill="#000" textLength="33.40" lengthAdjust="spacingAndGlyphs">136.060</text>
<text x="1647" y="439" font-size="10" fill="#000" textLength="33.40" lengthAdjust="spacingAndGlyphs">135.690</text>
<text x="1647" y="472" font-size="10" fill="#000" textLength="33.40" lengthAdjust="spacingAndGlyphs">135.320</text>
<text x="1647" y="505" font-size="10" fill="#000" textLength="33.40" lengthAdjust="spacingAndGlyphs">134.960</text>
<text x="1647" y="538" font-size="10" fill="#000" textLength="33.40" lengthAdjust="spacingAndGlyphs">134.590</text>
<text x="1647" y="571" font-size="10" fill="#000" textLength="33.40" lengthAdjust="spacingAndGlyphs">134.220</text>
<text x="1647" y="604" font-size="10" fill="#000" textLength="33.40" lengthAdjust="spacingAndGlyphs">133.850</text>
<text x="1647" y="637" font-size="10" fill="#000" textLength="33.40" lengthAdjust="spacingAndGlyphs">133.480</text>
<g shape-rendering="crispEdges">
<rect x="1643" y="337" width="42" height="11" fill="#dc143c"/>
<rect x="1643" y="377" width="42" height="11" fill="#ff0000"/>
<rect x="1643" y="419" width="42" height="11" fill="#ffa500"/>
<rect x="1643" y="472" width="42" height="11" fill="#0000ff"/>
<rect x="1643" y="509" width="42" height="11" fill="#0000ff"/>
<rect x="1643" y="437" width="42" height="11" fill="#000000"/>
</g>
<text x="1647" y="346" font-size="10" fill="#fff" textLength="33.40" lengthAdjust="spacingAndGlyphs" stroke="#fff" stroke-width="0.1">136.725</text>
<text x="1647" y="386" font-size="10" fill="#fff" textLength="33.40" lengthAdjust="spacingAndGlyphs" stroke="#fff" stroke-width="0.1">136.278</text>
<text x="1647" y="428" font-size="10" fill="#fff" textLength="33.40" lengthAdjust="spacingAndGlyphs" stroke="#fff" stroke-width="0.1">135.808</text>
<text x="1647" y="481" font-size="10" fill="#fff" textLength="33.40" lengthAdjust="spacingAndGlyphs" stroke="#fff" stroke-width="0.1">135.216</text>
<text x="1647" y="518" font-size="10" fill="#fff" textLength="33.40" lengthAdjust="spacingAndGlyphs" stroke="#fff" stroke-width="0.1">134.802</text>
<text x="1647" y="446" font-size="10" fill="#fff" textLength="33.40" lengthAdjust="spacingAndGlyphs" stroke="#fff" stroke-width="0.1">135.614</text>
<g clip-path="url(#cmacd)">
<g shape-rendering="crispEdges" fill="#00ff00">
<rect x="4" y="661" width="3" height="3"/>
<rect x="20" y="661" width="3" height="12"/>
<rect x="36" y="661" width="3" height="21"/>
<rect x="52" y="661" width="3" height="26"/>
<rect x="68" y="661" width="3" height="33"/>
<rect x="84" y="661" width="3" height="38"/>
<rect x="100" y="661" width="3" height="41"/>
<rect x="116" y="661" width="3" height="42"/>
<rect x="132" y="661" width="3" height="42"/>
<rect x="148" y="661" width="3" height="41"/>
<rect x="164" y="661" width="3" height="35"/>
<rect x="180" y="661" width="3" height="33"/>
<rect x="196" y="661" width="3" height="32"/>
<rect x="212" y="661" width="3" height="28"/>
<rect x="228" y="661" width="3" height="29"/>
<rect x="244" y="661" width="3" height="31"/>
<rect x="260" y="661" width="3" height="32"/>
<rect x="276" y="661" width="3" height="31"/>
<rect x="292" y="661" width="3" height="29"/>
<rect x="308" y="661" width="3" height="28"/>
<rect x="324" y="661" width="3" height="27"/>
<rect x="340" y="661" width="3" height="28"/>
<rect x="356" y="661" width="3" height="28"/>
<rect x="372" y="661" width="3" height="28"/>
<rect x="388" y="661" width="3" height="26"/>
<rect x="404" y="661" width="3" height="24"/>
<rect x="420" y="661" width="3" height="21"/>
<rect x="436" y="661" width="3" height="20"/>
<rect x="452" y="661" width="3" height="18"/>
<rect x="468" y="661" width="3" height="12"/>
<rect x="484" y="661" width="3" height="16"/>
<rect x="500" y="661" width="3" height="19"/>
<rect x="516" y="661" width="3" height="28"/>
<rect x="532" y="661" width="3" height="35"/>
<rect x="548" y="661" width="3" height="41"/>
<rect x="564" y="661" width="3" height="47"/>
<rect x="580" y="661" width="3" height="55"/>
<rect x="596" y="661" width="3" height="61"/>
<rect x="612" y="661" width="3" height="64"/>
<rect x="628" y="661" width="3" height="69"/>
<rect x="644" y="661" width="3" height="75"/>
<rect x="660" y="661" width="3" height="73"/>
<rect x="676" y="661" width="3" height="74"/>
<rect x="692" y="661" width="3" height="75"/>
<rect x="708" y="661" width="3" height="75"/>
<rect x="724" y="661" width="3" height="69"/>
<rect x="740" y="661" width="3" height="65"/>
<rect x="756" y="661" width="3" height="55"/>
<rect x="772" y="661" width="3" height="44"/>
<rect x="788" y="661" width="3" height="36"/>
<rect x="804" y="661" width="3" height="28"/>
<rect x="820" y="661" width="3" height="20"/>
<rect x="836" y="661" width="3" height="18"/>
<rect x="852" y="661" width="3" height="14"/>
<rect x="868" y="661" width="3" height="9"/>
<rect x="884" y="661" width="3" height="6"/>
<rect x="900" y="661" width="3" height="2"/>
<rect x="916" y="657" width="3" height="4"/>
<rect x="932" y="652" width="3" height="9"/>
<rect x="948" y="653" width="3" height="8"/>
<rect x="964" y="657" width="3" height="4"/>
<rect x="980" y="659" width="3" height="2"/>
<rect x="996" y="658" width="3" height="3"/>
<rect x="1012" y="658" width="3" height="3"/>
<rect x="1028" y="658" width="3" height="3"/>
<rect x="1044" y="659" width="3" height="2"/>
<rect x="1060" y="659" width="3" height="2"/>
<rect x="1076" y="660" width="3" height="1"/>
<rect x="1092" y="661" width="3" height="4"/>
<rect x="1108" y="661" width="3" height="5"/>
<rect x="1124" y="661" width="3" height="8"/>
<rect x="1140" y="661" width="3" height="6"/>
<rect x="1156" y="661" width="3" height="6"/>
<rect x="1172" y="661" width="3" height="3"/>
<rect x="1188" y="661" width="3" height="2"/>
<rect x="1204" y="661" width="3" height="1"/>
<rect x="1220" y="660" width="3" height="1"/>
<rect x="1236" y="656" width="3" height="5"/>
<rect x="1252" y="651" width="3" height="10"/>
<rect x="1268" y="648" width="3" height="13"/>
<rect x="1284" y="646" width="3" height="15"/>
<rect x="1300" y="645" width="3" height="16"/>
<rect x="1316" y="644" width="3" height="17"/>
<rect x="1332" y="656" width="3" height="5"/>
<rect x="1348" y="661" width="3" height="3"/>
<rect x="1364" y="661" width="3" height="9"/>
</g>
<polyline points="0,646.5 5,647.0 21,650.0 37,653.4 53,658.8 69,665.4 85,671.1 101,676.5 117,683.4 133,688.8 149,693.0 165,696.2 181,697.3 197,697.3 213,697.0 229,696.0 245,695.4 261,694.2 277,693.4 293,692.2 309,691.1 325,690.3 341,689.9 357,689.9 373,689.9 389,689.3 405,688.0 421,687.0 437,686.0 453,685.0 469,683.1 485,682.2 501,681.1 517,681.6 533,682.6 549,684.6 565,687.6 581,690.3 597,695.4 613,701.6 629,707.6 645,713.7 661,718.5 677,722.7 693,726.5 709,729.6 725,730.8 741,730.8 757,730.1 773,727.6 789,724.2 805,719.1 821,712.4 837,706.2 853,698.8 869,691.9 885,686.5 901,680.3 917,674.2 933,670.3 949,666.2 965,663.1 981,661.1 997,659.1 1013,658.0 1029,657.2 1045,656.8 1061,657.2 1077,658.5 1093,659.6 1109,660.6 1125,661.6 1141,662.6 1157,662.6 1173,663.4 1189,663.7 1205,663.7 1221,663.7 1237,662.9 1253,662.3 1269,659.3 1285,657.1 1301,655.1 1317,653.5 1333,652.2 1349,652.2 1365,652.9" fill="none" stroke="#ff0000" stroke-width="2" stroke-linejoin="round" shape-rendering="crispEdges"/>
</g>
<text x="9" y="651" font-size="10" fill="#000" textLength="131.00" lengthAdjust="spacingAndGlyphs">MACD(12,26,9) -0.1177 0.1247</text>
<g shape-rendering="crispEdges">
<rect x="1642" y="640" width="2" height="1" fill="#000"/>
<rect x="1642" y="661" width="2" height="1" fill="#000"/>
</g>
<text x="1645" y="649" font-size="10" fill="#000" textLength="28.60" lengthAdjust="spacingAndGlyphs">0.3348</text>
<text x="1645" y="665" font-size="10" fill="#000" textLength="18.50" lengthAdjust="spacingAndGlyphs">0.00</text>
<text x="1645" y="738" font-size="10" fill="#000" textLength="30.80" lengthAdjust="spacingAndGlyphs">-1.2321</text>
<g shape-rendering="crispEdges">
<line x1="6" y1="762.5" x2="1641" y2="762.5" stroke="#000" stroke-width="1" stroke-dasharray="3 3"/>
<rect x="1642" y="762" width="2" height="1" fill="#000"/>
<line x1="6" y1="789.5" x2="1641" y2="789.5" stroke="#000" stroke-width="1" stroke-dasharray="3 3"/>
<rect x="1642" y="789" width="2" height="1" fill="#000"/>
<line x1="6" y1="820.5" x2="1641" y2="820.5" stroke="#000" stroke-width="1" stroke-dasharray="3 3"/>
<rect x="1642" y="820" width="2" height="1" fill="#000"/>
</g>
<g clip-path="url(#crsi)">
<polyline points="5,802.7 21,802.7 37,806.6 53,803.8 69,806.6 85,806.3 101,805.5 117,802.7 133,801.9 149,800.7 165,791.9 181,794.7 197,795.8 213,792.7 229,798.6 245,800.7 261,801.6 277,793.8 293,794.7 309,795.8 325,796.3 341,799.6 357,801.2 373,796.6 389,792.7 405,791.9 421,791.9 437,793.9 453,791.6 469,783.5 485,797.6 501,801.5 517,804.7 533,805.0 549,807.3 565,808.1 581,811.6 597,811.6 613,812.0 629,814.6 645,815.8 661,800.9 677,804.7 693,804.7 709,804.7 725,797.8 741,797.3 757,789.0 773,787.6 789,786.9 805,785.5 821,784.7 837,790.0 853,787.0 869,785.8 885,785.8 901,784.2 917,782.2 933,780.9 949,789.6 965,791.9 981,791.5 997,788.1 1013,788.6 1029,788.9 1045,789.6 1061,789.3 1077,788.9 1093,795.8 1109,791.9 1125,795.0 1141,788.9 1157,788.9 1173,787.3 1189,787.0 1205,788.1 1221,786.6 1237,781.2 1253,778.8 1269,780.9 1285,780.9 1301,782.5 1317,782.5 1333,800.8 1349,799.1 1365,797.9" fill="none" stroke="#1e90ff" stroke-width="2" stroke-linejoin="round" shape-rendering="crispEdges"/>
</g>
<text x="9" y="756" font-size="10" fill="#000" textLength="68.80" lengthAdjust="spacingAndGlyphs">RSI(14) 40.6817</text>
<text x="1645" y="754" font-size="10" fill="#000" textLength="15.52" lengthAdjust="spacingAndGlyphs">100</text>
<text x="1645" y="766" font-size="10" fill="#000" textLength="10.34" lengthAdjust="spacingAndGlyphs">80</text>
<text x="1645" y="792.5" font-size="10" fill="#000" textLength="10.34" lengthAdjust="spacingAndGlyphs">50</text>
<text x="1645" y="824" font-size="10" fill="#000" textLength="10.34" lengthAdjust="spacingAndGlyphs">15</text>
<text x="1645" y="831" font-size="10" fill="#000" textLength="5.17" lengthAdjust="spacingAndGlyphs">0</text>
<g shape-rendering="crispEdges">
<rect x="5" y="835" width="1" height="3" fill="#000"/>
<rect x="69" y="835" width="1" height="3" fill="#000"/>
<rect x="133" y="835" width="1" height="3" fill="#000"/>
<rect x="197" y="835" width="1" height="3" fill="#000"/>
<rect x="261" y="835" width="1" height="3" fill="#000"/>
<rect x="325" y="835" width="1" height="3" fill="#000"/>
<rect x="389" y="835" width="1" height="3" fill="#000"/>
<rect x="453" y="835" width="1" height="3" fill="#000"/>
<rect x="517" y="835" width="1" height="3" fill="#000"/>
<rect x="581" y="835" width="1" height="3" fill="#000"/>
<rect x="645" y="835" width="1" height="3" fill="#000"/>
<rect x="709" y="835" width="1" height="3" fill="#000"/>
<rect x="773" y="835" width="1" height="3" fill="#000"/>
<rect x="837" y="835" width="1" height="3" fill="#000"/>
<rect x="901" y="835" width="1" height="3" fill="#000"/>
<rect x="965" y="835" width="1" height="3" fill="#000"/>
<rect x="1029" y="835" width="1" height="3" fill="#000"/>
<rect x="1093" y="835" width="1" height="3" fill="#000"/>
<rect x="1157" y="835" width="1" height="3" fill="#000"/>
<rect x="1221" y="835" width="1" height="3" fill="#000"/>
<rect x="1285" y="835" width="1" height="3" fill="#000"/>
<rect x="1349" y="835" width="1" height="3" fill="#000"/>
</g>
<text x="3.5" y="847" font-size="10" fill="#000" textLength="55.29" lengthAdjust="spacingAndGlyphs">23 Nov 2022</text>
<text x="67.5" y="847" font-size="10" fill="#000" textLength="58.00" lengthAdjust="spacingAndGlyphs">24 Nov 08:00</text>
<text x="131.5" y="847" font-size="10" fill="#000" textLength="58.00" lengthAdjust="spacingAndGlyphs">25 Nov 00:00</text>
<text x="195.5" y="847" font-size="10" fill="#000" textLength="58.00" lengthAdjust="spacingAndGlyphs">25 Nov 16:00</text>
<text x="259.5" y="847" font-size="10" fill="#000" textLength="58.00" lengthAdjust="spacingAndGlyphs">28 Nov 08:00</text>
<text x="323.5" y="847" font-size="10" fill="#000" textLength="58.00" lengthAdjust="spacingAndGlyphs">29 Nov 00:00</text>
<text x="387.5" y="847" font-size="10" fill="#000" textLength="58.00" lengthAdjust="spacingAndGlyphs">29 Nov 16:00</text>
<text x="451.5" y="847" font-size="10" fill="#000" textLength="58.00" lengthAdjust="spacingAndGlyphs">30 Nov 08:00</text>
<text x="515.5" y="847" font-size="10" fill="#000" textLength="52.57" lengthAdjust="spacingAndGlyphs">1 Dec 00:00</text>
<text x="579.5" y="847" font-size="10" fill="#000" textLength="52.57" lengthAdjust="spacingAndGlyphs">1 Dec 16:00</text>
<text x="643.5" y="847" font-size="10" fill="#000" textLength="52.57" lengthAdjust="spacingAndGlyphs">2 Dec 08:00</text>
<text x="707.5" y="847" font-size="10" fill="#000" textLength="52.57" lengthAdjust="spacingAndGlyphs">5 Dec 00:00</text>
<text x="771.5" y="847" font-size="10" fill="#000" textLength="52.57" lengthAdjust="spacingAndGlyphs">5 Dec 16:00</text>
<text x="835.5" y="847" font-size="10" fill="#000" textLength="52.57" lengthAdjust="spacingAndGlyphs">6 Dec 08:00</text>
<text x="899.5" y="847" font-size="10" fill="#000" textLength="52.57" lengthAdjust="spacingAndGlyphs">7 Dec 00:00</text>
<text x="963.5" y="847" font-size="10" fill="#000" textLength="52.57" lengthAdjust="spacingAndGlyphs">7 Dec 16:00</text>
<text x="1027.5" y="847" font-size="10" fill="#000" textLength="52.57" lengthAdjust="spacingAndGlyphs">8 Dec 08:00</text>
<text x="1091.5" y="847" font-size="10" fill="#000" textLength="52.57" lengthAdjust="spacingAndGlyphs">9 Dec 00:00</text>
<text x="1155.5" y="847" font-size="10" fill="#000" textLength="52.57" lengthAdjust="spacingAndGlyphs">9 Dec 16:00</text>
<text x="1219.5" y="847" font-size="10" fill="#000" textLength="58.00" lengthAdjust="spacingAndGlyphs">12 Dec 08:00</text>
<text x="1283.5" y="847" font-size="10" fill="#000" textLength="58.00" lengthAdjust="spacingAndGlyphs">13 Dec 00:00</text>
<text x="1347.5" y="847" font-size="10" fill="#000" textLength="58.00" lengthAdjust="spacingAndGlyphs">13 Dec 16:00</text>
</svg>
</body></html>
